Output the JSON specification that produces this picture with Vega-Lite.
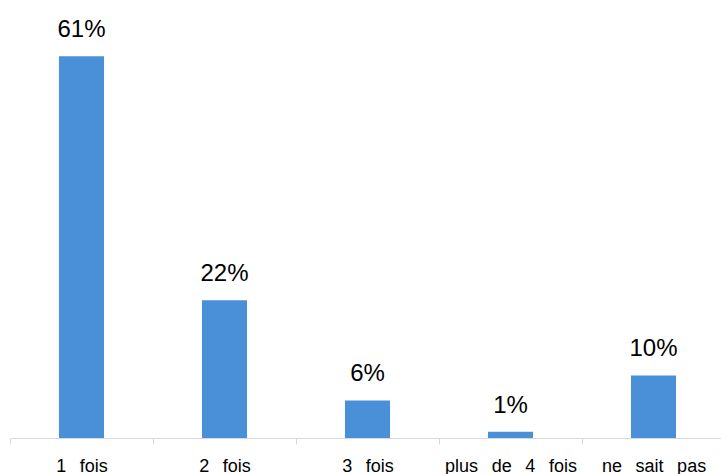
{
  "$schema": "https://vega.github.io/schema/vega-lite/v6.json",
  "width": 715,
  "height": 438,
  "autosize": {"type": "none"},
  "padding": {"left": 10, "top": 0, "right": 0, "bottom": 36},
  "background": "white",
  "config": {"view": {"stroke": null}},
  "data": {
    "values": [
      {"cat": "1\u00a0\u00a0\u2009fois", "v": 0.61},
      {"cat": "2\u00a0\u00a0\u2009fois", "v": 0.22},
      {"cat": "3\u00a0\u00a0\u2009fois", "v": 0.06},
      {"cat": "plus\u00a0\u00a0\u2009de\u00a0\u00a0\u20094\u00a0\u00a0\u2009fois", "v": 0.01},
      {"cat": "ne\u00a0\u00a0\u2009sait\u00a0\u00a0\u2009pas", "v": 0.10}
    ]
  },
  "encoding": {
    "x": {
      "field": "cat",
      "type": "nominal",
      "sort": null,
      "scale": {"paddingInner": 0, "paddingOuter": 0},
      "axis": {
        "title": null,
        "labelAngle": 0,
        "tickBand": "extent",
        "domainColor": "#d9d9d9",
        "tickColor": "#d9d9d9",
        "tickSize": 6,
        "labelPadding": 27,
        "labelBaseline": "alphabetic",
        "labelFont": "Liberation Sans",
        "labelFontSize": 18,
        "labelColor": "#000000",
        "labelOverlap": false
      }
    },
    "y": {
      "field": "v",
      "type": "quantitative",
      "scale": {"domain": [0, 0.7], "nice": false},
      "axis": null
    }
  },
  "layer": [
    {"mark": {"type": "bar", "color": "#4a90d9", "width": {"band": 0.315}}},
    {
      "mark": {
        "type": "text",
        "baseline": "alphabetic",
        "dy": -19,
        "font": "Liberation Sans",
        "fontSize": 24,
        "color": "#000000"
      },
      "encoding": {"text": {"field": "v", "type": "quantitative", "format": ".0%"}}
    }
  ]
}
